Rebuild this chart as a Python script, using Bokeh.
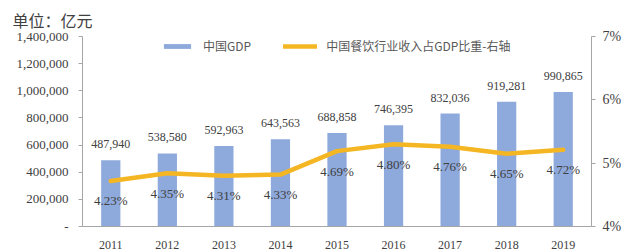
from bokeh.plotting import figure
from bokeh.models import (ColumnDataSource, FactorRange, Range1d, LinearAxis, FixedTicker,
                          NumeralTickFormatter, PrintfTickFormatter, LabelSet, Legend, LegendItem, Title)
from bokeh.embed import file_html
from bokeh.resources import INLINE

years = ["2011", "2012", "2013", "2014", "2015", "2016", "2017", "2018", "2019"]
gdp = [487940, 538580, 592963, 643563, 688858, 746395, 832036, 919281, 990865]
gdp_labels = ["487,940", "538,580", "592,963", "643,563", "688,858", "746,395", "832,036", "919,281", "990,865"]
share_line = [4.72, 4.84, 4.80, 4.82, 5.19, 5.30, 5.26, 5.15, 5.21]
share_labels = ["4.23%", "4.35%", "4.31%", "4.33%", "4.69%", "4.80%", "4.76%", "4.65%", "4.72%"]
left_ticks = [0, 200000, 400000, 600000, 800000, 1000000, 1200000, 1400000]
right_ticks = [4, 5, 6, 7]

src = ColumnDataSource(dict(x=years, gdp=gdp, gl=gdp_labels, s=share_line, sl=share_labels))

SERIF = "Liberation Serif"
CJK = "Noto Sans CJK SC"
TXT = "#404040"
AX = "#A6A6A6"

p = figure(width=624, height=251, x_range=FactorRange(*years, range_padding=0),
           y_range=Range1d(0, 1400000), output_backend="svg", toolbar_location=None,
           min_border_left=82, min_border_right=32, min_border_top=35, min_border_bottom=25)
p.x_range.range_padding = 0
p.outline_line_color = None
p.grid.visible = False
p.background_fill_color = "white"
p.border_fill_color = "white"

p.extra_y_ranges = {"pct": Range1d(4, 7)}

bars = p.vbar(x="x", top="gdp", width=0.34, source=src, fill_color="#8EA9DB", line_color=None)
line = p.line(x="x", y="s", source=src, y_range_name="pct", line_color="#F5B624", line_width=4.5,
              line_join="round", line_cap="round")

# left axis
ya = p.yaxis[0]
ya.ticker = FixedTicker(ticks=left_ticks)
ya.formatter = NumeralTickFormatter(format="0,0")
ya.major_label_overrides = {0: "-"}
ya.axis_line_color = AX
ya.major_tick_line_color = AX
ya.major_tick_out = 4
ya.major_tick_in = 0
ya.minor_tick_line_color = None
ya.major_label_standoff = 10
ya.major_label_text_font = SERIF
ya.major_label_text_font_size = "13px"
ya.major_label_text_color = TXT

# bottom axis
xa = p.xaxis[0]
xa.axis_line_color = AX
xa.major_tick_line_color = None
xa.minor_tick_line_color = None
xa.major_label_standoff = 8
xa.major_label_text_font = SERIF
xa.major_label_text_font_size = "12px"
xa.major_label_text_color = TXT

# right axis
ra = LinearAxis(y_range_name="pct", ticker=FixedTicker(ticks=right_ticks),
                formatter=PrintfTickFormatter(format="%d%%"))
ra.axis_line_color = AX
ra.major_tick_line_color = AX
ra.major_tick_out = 4
ra.major_tick_in = 0
ra.minor_tick_line_color = None
ra.major_label_standoff = 7
ra.major_label_text_font = SERIF
ra.major_label_text_font_size = "14px"
ra.major_label_text_color = TXT
p.add_layout(ra, "right")

# data labels
p.add_layout(LabelSet(x="x", y="gdp", text="gl", source=src, text_align="center", text_baseline="middle",
                      y_offset=16, text_font=SERIF, text_font_size="12px", text_color=TXT))
p.add_layout(LabelSet(x="x", y="s", text="sl", source=src, y_range_name="pct", text_align="center",
                      text_baseline="middle", y_offset=-20, text_font=SERIF, text_font_size="13px",
                      text_color=TXT))

# title
p.add_layout(Title(text="单位：亿元", align="left", offset=-70, standoff=10,
                   text_font=CJK, text_font_size="16px", text_color=TXT, text_font_style="normal"), "above")

legend = Legend(items=[LegendItem(label="中国GDP", renderers=[bars]),
                       LegendItem(label="中国餐饮行业收入占GDP比重-右轴", renderers=[line])],
                orientation="horizontal", location=(78, 172), padding=0, margin=0,
                spacing=32, glyph_width=34, glyph_height=6, label_height=14, label_standoff=9,
                label_text_font=CJK, label_text_font_size="12px", label_text_color="#595959",
                background_fill_alpha=0, border_line_color=None)
p.add_layout(legend, "center")

open("out.html", "w").write(file_html(p, INLINE))
